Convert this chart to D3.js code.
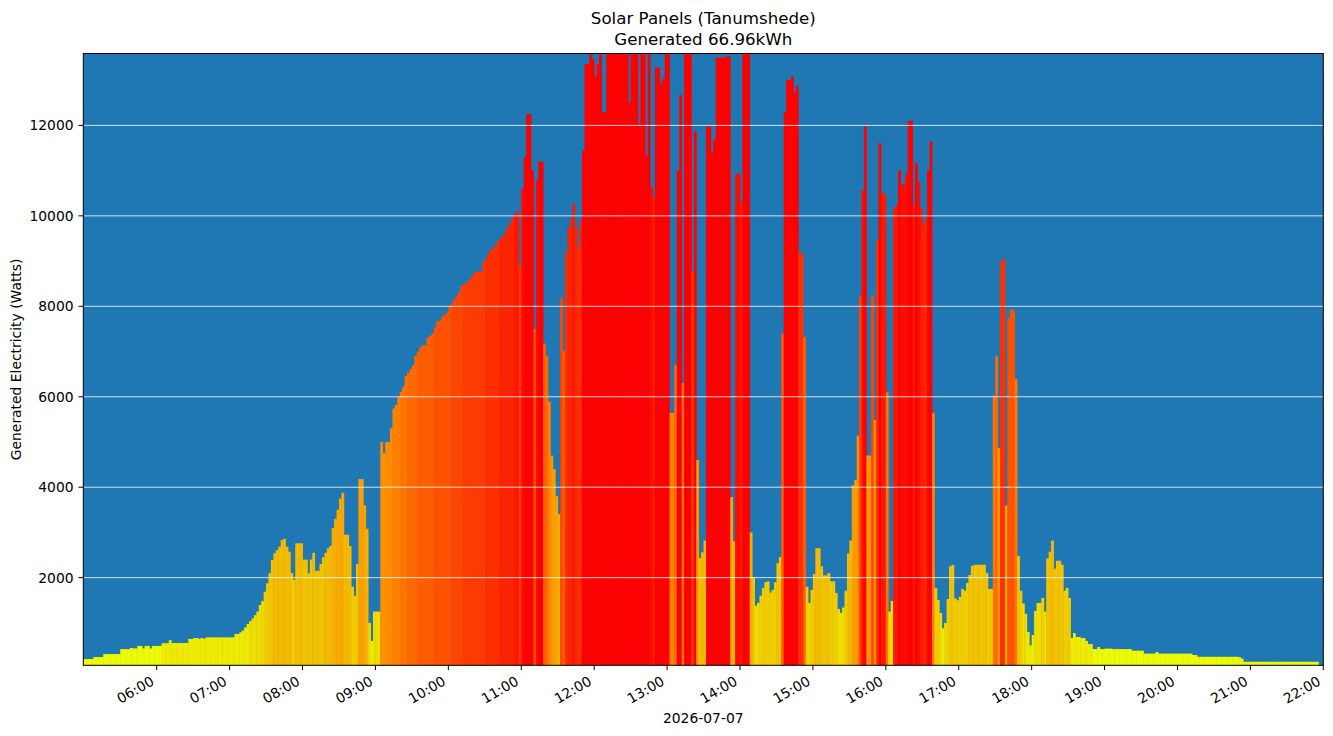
<!DOCTYPE html>
<html>
<head>
<meta charset="utf-8">
<script src="https://cdn.jsdelivr.net/npm/d3@7"></script>
<style>
  body { margin: 0; background: #fff; }
  svg text { font-family: "DejaVu Sans", sans-serif; fill: #000; }
</style>
</head>
<body>
<svg id="chart" width="1333" height="736"></svg>
<script>
// generated watts, one value per 2 minutes, one array per hour
const w05 = [200,200,200,200,245,245,245,245,310,310,310,310,310,310,310,420,420,420,420,445,435,435,490,490,435,490,490,435,490,490];
const w06 = [490,490,550,550,550,620,555,555,555,555,555,555,555,645,645,665,665,645,665,645,680,680,680,680,680,680,680,680,680,680];
const w07 = [680,680,755,755,790,830,900,975,1040,1100,1170,1250,1395,1480,1690,1875,2100,2390,2540,2610,2685,2830,2860,2685,2575,2100,1960,2760,2760,2760];
const w08 = [2400,2400,2100,2400,2550,2150,2150,2300,2450,2550,2650,2700,3100,3300,3500,3750,3880,2950,2950,2700,1800,1600,2300,4180,4180,3600,3080,1000,600,1250];
const w09 = [1250,1250,5000,4750,5000,5000,5300,5740,5820,5990,6110,6220,6460,6530,6610,6700,6900,7000,7100,7140,7140,7300,7350,7400,7535,7675,7675,7770,7820,7860];
const w10 = [7990,8065,8155,8235,8320,8450,8510,8510,8580,8640,8730,8765,8765,8765,8985,9060,9170,9245,9300,9350,9450,9500,9550,9650,9750,9850,9950,10050,10100,8900];
const w11 = [10600,11300,12250,12250,11000,7500,10800,11200,11200,7180,6900,5890,4700,4400,3800,3400,8200,7010,9180,9730,9920,10270,9730,9300,9885,11450,13355,13355,13570,13470];
const w12 = [13090,13355,13570,12290,12290,13600,13600,13600,13600,13600,13600,13600,13600,13600,12500,13600,13600,13600,12040,13600,13600,11320,13600,10645,10400,13280,13280,12910,13030,13600];
const w13 = [13600,5645,5645,6710,11000,12670,6300,13600,13600,13600,8770,11870,4600,2430,2560,2820,11980,11980,11390,11690,13500,13500,13500,13500,13530,13530,3780,2800,10930,10930];
const w14 = [10270,13600,13600,13600,3000,2000,1380,1440,1600,1770,1900,1920,1670,1730,1900,2320,2455,7400,12290,13005,13005,13090,12720,12870,9180,9180,7320,1800,1440,1730];
const w15 = [2080,2650,2650,2250,2050,2050,2100,1920,1920,1660,1310,1220,1340,1710,2540,2820,4040,4160,5140,8240,10575,11980,4700,4700,8240,5490,9450,11610,10490,10490];
const w16 = [6100,1250,1485,10160,10250,11010,10690,10690,10925,12100,12100,10230,11170,10750,10160,9800,9930,11000,11650,5645,1770,1510,1220,880,1000,1530,2250,2280,1540,1500];
const w17 = [1575,1750,1710,1885,2060,2260,2285,2285,2285,2285,2285,2100,1750,1750,6020,6900,4860,9000,9050,3590,7740,7920,7920,6390,2480,1710,1430,1200,800,500];
const w18 = [730,1265,1440,1440,1550,1250,2425,2575,2820,2200,2375,2375,2285,1710,1775,1550,665,775,690,690,665,665,600,530,530,420,420,465,420,420];
const w19 = [430,430,430,420,420,420,420,420,420,420,420,385,385,385,385,385,320,320,320,320,320,355,320,320,320,320,320,320,320,320];
const w20 = [320,320,320,320,320,320,290,290,250,250,250,250,250,250,250,250,250,250,250,250,250,250,250,250,250,240,210,140,140,140];
const w21 = [140,140,140,140,140,140,140,140,140,140,140,140,140,140,140,140,140,140,140,140,140,140,140,140,140,140,140,140,null,null];

const hours = [[5,w05],[6,w06],[7,w07],[8,w08],[9,w09],[10,w10],[11,w11],[12,w12],[13,w13],[14,w14],[15,w15],[16,w16],[17,w17],[18,w18],[19,w19],[20,w20],[21,w21]];
const yTicks = [2000, 4000, 6000, 8000, 10000, 12000];
const xTicks = d3.range(6, 23);   // 06:00 .. 22:00
const day = [2026, 6, 7];

const readings = [];
hours.forEach(([h, arr]) => arr.forEach((v, i) => {
  if (v != null) readings.push({t: new Date(day[0], day[1], day[2], h, i * 2), v});
}));

const svg = d3.select("#chart");
const pLeft = 83.3, pRight = 1323.3, pTop = 53.5, pBottom = 665.3;
const tickLen = 4.86, fs = "13.89px";

const x = d3.scaleTime()
  .domain([new Date(day[0], day[1], day[2], 4, 59, 36), new Date(day[0], day[1], day[2], 22, 0)])
  .range([pLeft, pRight]);
const y = d3.scaleLinear().domain([62, 13590]).range([pBottom, pTop]);

// colour steps every 500 W, yellow -> red
const levelColor = d3.scaleLinear()
  .domain([0, 3, 10, 16, 22])
  .range(["#eefb00", "#f0cc00", "#ff8c00", "#ff4600", "#ff0000"])
  .clamp(true);
const barColor = v => levelColor(Math.floor(v / 500));

svg.append("defs").append("clipPath").attr("id", "plot")
  .append("rect").attr("x", pLeft).attr("y", pTop).attr("width", pRight - pLeft).attr("height", pBottom - pTop);

svg.append("rect")
  .attr("x", pLeft).attr("y", pTop).attr("width", pRight - pLeft).attr("height", pBottom - pTop)
  .attr("fill", "#1f77b4");

const step = 2 * 60 * 1000;
svg.append("g").attr("clip-path", "url(#plot)")
  .selectAll("rect")
  .data(readings)
  .join("rect")
    .attr("x", d => x(d.t))
    .attr("width", d => x(new Date(+d.t + step)) - x(d.t) + 0.4)
    .attr("y", d => y(d.v))
    .attr("height", d => Math.max(0, pBottom - y(d.v)))
    .attr("fill", d => barColor(d.v));

// grid on top of the bars
svg.append("g")
  .selectAll("line")
  .data(yTicks)
  .join("line")
    .attr("x1", pLeft).attr("x2", pRight)
    .attr("y1", d => y(d)).attr("y2", d => y(d))
    .attr("stroke", "#fff").attr("stroke-width", 0.8);

// y axis
const yAxis = svg.append("g");
yAxis.selectAll("line")
  .data(yTicks)
  .join("line")
    .attr("x1", pLeft - tickLen).attr("x2", pLeft)
    .attr("y1", d => y(d)).attr("y2", d => y(d))
    .attr("stroke", "#000").attr("stroke-width", 1);
yAxis.selectAll("text")
  .data(yTicks)
  .join("text")
    .attr("x", pLeft - 2 * tickLen)
    .attr("y", d => y(d))
    .attr("dy", "0.36em")
    .attr("text-anchor", "end")
    .style("font-size", fs)
    .text(d => d);

// x axis
const tickTime = h => new Date(day[0], day[1], day[2], h, 0);
const xAxis = svg.append("g");
xAxis.selectAll("line")
  .data(xTicks)
  .join("line")
    .attr("x1", d => x(tickTime(d))).attr("x2", d => x(tickTime(d)))
    .attr("y1", pBottom).attr("y2", pBottom + tickLen)
    .attr("stroke", "#000").attr("stroke-width", 1);
xAxis.selectAll("text")
  .data(xTicks)
  .join("text")
    .attr("transform", d => `translate(${x(tickTime(d)) - 1.6},${684}) rotate(-30)`)
    .attr("text-anchor", "end")
    .style("font-size", fs)
    .text(d => d3.timeFormat("%H:%M")(tickTime(d)));

// frame
svg.append("rect")
  .attr("x", pLeft).attr("y", pTop).attr("width", pRight - pLeft).attr("height", pBottom - pTop)
  .attr("fill", "none").attr("stroke", "#000").attr("stroke-width", 1);

svg.append("text")
  .attr("x", (pLeft + pRight) / 2).attr("y", 723)
  .attr("text-anchor", "middle")
  .style("font-size", fs)
  .text("2026-07-07");

svg.append("text")
  .attr("transform", `translate(20.5,${(pTop + pBottom) / 2}) rotate(-90)`)
  .attr("text-anchor", "middle")
  .style("font-size", fs)
  .text("Generated Electricity (Watts)");

const title = svg.append("text")
  .attr("text-anchor", "middle")
  .style("font-size", "16.67px");
title.append("tspan").attr("x", (pLeft + pRight) / 2).attr("y", 24).text("Solar Panels (Tanumshede)");
title.append("tspan").attr("x", (pLeft + pRight) / 2).attr("y", 45).text("Generated 66.96kWh");
</script>
</body>
</html>
